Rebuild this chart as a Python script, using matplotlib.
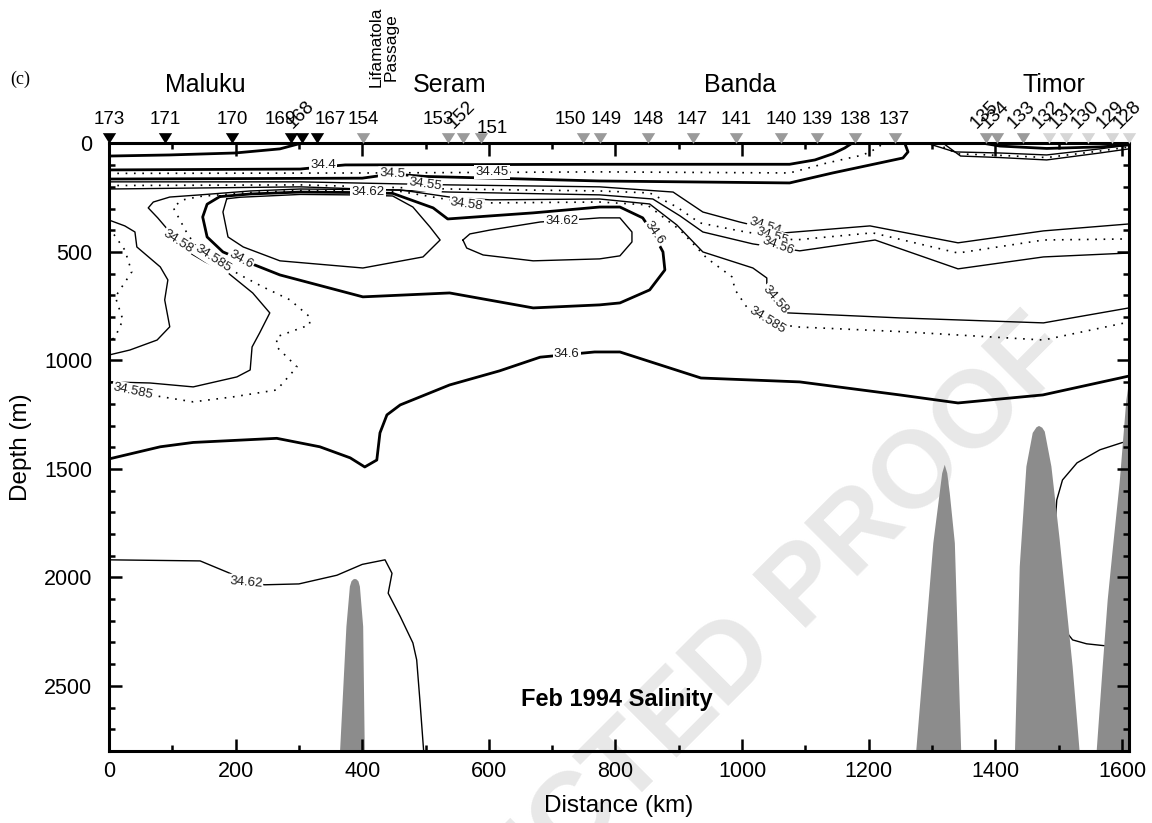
import matplotlib
matplotlib.use("Agg")
import matplotlib.pyplot as plt
from matplotlib.ticker import MultipleLocator
from matplotlib.transforms import blended_transform_factory

plt.rcParams["font.family"] = ["Liberation Sans", "DejaVu Sans"]

# ---------------- stations along the section ----------------
station_ids = ["173", "171", "170", "169", "168", "167", "154", "153", "152", "151",
               "150", "149", "148", "147", "141", "140", "139", "138", "137",
               "135", "134", "133", "132", "131", "130", "129", "128"]
station_km = [0, 89, 195, 288, 305, 328, 401, 535, 559, 587,
              748, 775, 852, 922, 991, 1062, 1119, 1179, 1241,
              1385, 1403, 1444, 1484, 1511, 1546, 1584, 1611]
station_group = ["a"] * 6 + ["b"] * 16 + ["c"] * 5
tilted_ids = ["168", "152", "135", "134", "133", "132", "131", "130", "129", "128"]

region_names = ["Maluku", "Seram", "Banda", "Timor"]
region_km = [152, 538, 996, 1492]

# ---------------- isohalines (distance km, depth m) ----------------
iso_343_km = [0, 96, 199, 270, 302]
iso_343_m = [58, 53, 44, 25, 0]

iso_344_km = [0, 144, 302, 338, 373, 775, 1075, 1115, 1143, 1162, 1173]
iso_344_m = [122, 120, 118, 108, 99, 96, 96, 76, 48, 21, 0]

iso_3445_km = [0, 417, 775, 1075, 1134, 1191, 1214, 1222]
iso_3445_m = [138, 136, 131, 136, 90, 53, 21, 0]

iso_345_km = [0, 400, 447, 500, 775, 1075, 1143, 1217, 1254, 1262, 1257]
iso_345_m = [164, 160, 141, 152, 173, 182, 136, 90, 67, 39, 0]

iso_3454_km = [0, 302, 538, 775, 891, 938, 996, 1067, 1202, 1341, 1476, 1611]
iso_3454_m = [177, 177, 191, 200, 224, 316, 362, 412, 380, 458, 403, 371]

iso_3455_km = [0, 302, 538, 775, 854, 897, 933, 996, 1083, 1206, 1341, 1476, 1611]
iso_3455_m = [194, 191, 210, 219, 228, 293, 366, 403, 445, 412, 505, 445, 440]

iso_3456_km = [0, 302, 538, 775, 859, 902, 938, 1017, 1091, 1210, 1341, 1476, 1611]
iso_3456_m = [210, 200, 224, 237, 256, 334, 408, 463, 495, 445, 578, 523, 505]

iso_3458_km = [0, 65, 133, 202, 223, 226, 238, 254, 227, 186, 152, 120, 96, 77, 62,
               70, 96, 144, 223, 302, 460, 538, 602, 775, 854, 897, 938, 1017, 1039,
               1039, 1052, 1072, 1249, 1476, 1611]
iso_3458_m = [1099, 1104, 1122, 1076, 1044, 938, 873, 781, 689, 592, 546, 491, 408, 343, 297,
              270, 247, 237, 219, 210, 214, 247, 260, 256, 279, 376, 500, 574, 620,
              661, 721, 781, 804, 827, 758]

iso_34585_km = [0, 65, 133, 196, 265, 297, 265, 265, 317, 317, 286, 243, 207, 164, 136,
                123, 101, 117, 144, 223, 302, 460, 538, 602, 775, 850, 902, 944, 984,
                989, 1007, 1039, 1082, 1249, 1476, 1611]
iso_34585_m = [1140, 1159, 1191, 1168, 1136, 1030, 938, 891, 836, 799, 721, 661, 606, 532, 468,
               412, 293, 260, 244, 226, 217, 221, 260, 274, 270, 283, 399, 528, 615,
               675, 753, 813, 845, 867, 906, 823]

iso_346_core_km = [175, 223, 302, 381, 448, 512, 535, 602, 670, 775, 807, 843, 859, 875,
                   878, 854, 807, 775, 670, 538, 401, 270, 238, 210, 180, 155, 148, 155, 175]
iso_346_core_m = [245, 233, 224, 226, 230, 297, 348, 334, 320, 293, 293, 343, 412, 500,
                  583, 675, 735, 744, 758, 689, 707, 606, 569, 537, 500, 431, 339, 280, 245]

iso_3462_west_km = [186, 207, 302, 381, 448, 480, 507, 523, 496, 401, 270, 212, 188, 180, 186]
iso_3462_west_m = [255, 248, 235, 237, 242, 293, 385, 445, 523, 574, 541, 477, 431, 316, 255]

iso_3462_east_km = [559, 570, 602, 681, 752, 775, 807, 826, 826, 807, 775, 670, 591, 565, 559]
iso_3462_east_m = [445, 417, 399, 362, 348, 343, 343, 408, 454, 518, 532, 541, 514, 482, 445]

iso_3457_wall_km = [0, 25, 41, 44, 81, 93, 88, 96, 76, 33, 0]
iso_3457_wall_m = [353, 380, 408, 477, 569, 629, 721, 845, 906, 952, 975]

iso_34575_wall_km = [0, 6, 25, 36, 10, 22, 10, 0]
iso_34575_wall_m = [389, 412, 491, 592, 707, 813, 891, 915]

iso_346_deep_km = [0, 81, 133, 265, 333, 381, 404, 423, 428, 439, 460, 538, 617, 681,
                   767, 807, 935, 1091, 1249, 1341, 1475, 1611]
iso_346_deep_m = [1454, 1398, 1378, 1359, 1398, 1449, 1491, 1459, 1334, 1251, 1205, 1113,
                  1048, 985, 961, 961, 1081, 1099, 1159, 1196, 1159, 1072]

iso_3462_deep_west_km = [0, 144, 191, 215, 246, 300, 360, 400, 436, 447, 441, 460, 480,
                         486, 491, 497]
iso_3462_deep_west_m = [1919, 1924, 1981, 2022, 2034, 2030, 1990, 1940, 1919, 1981, 2073,
                        2180, 2302, 2380, 2564, 2800]

iso_3462_deep_east_km = [1601, 1565, 1529, 1506, 1497, 1494, 1502, 1513, 1522, 1544, 1573]
iso_3462_deep_east_m = [1378, 1412, 1472, 1551, 1643, 1767, 1951, 2255, 2288, 2306, 2315]

timor_a_km = [1293, 1336, 1407, 1481, 1565, 1611]
timor_a_m = [0, 39, 44, 53, 25, 7]
timor_b_km = [1306, 1341, 1407, 1481, 1565, 1611]
timor_b_m = [0, 48, 55, 65, 35, 16]
timor_c_km = [1318, 1345, 1407, 1481, 1565, 1611]
timor_c_m = [0, 58, 65, 76, 44, 25]
timor_d_km = [1383, 1407, 1481, 1565, 1611]
timor_d_m = [0, 12, 23, 16, 7]

# ---------------- contour labels ----------------
label_text = ["34.4", "34.5", "34.45", "34.55", "34.62", "34.58", "34.62", "34.58",
              "34.585", "34.6", "34.6", "34.54", "34.55", "34.56", "34.58", "34.585",
              "34.6", "34.585", "34.62"]
label_km = [338, 447, 605, 499, 409, 565, 715, 109, 164, 208, 862, 1036, 1047, 1056,
            1052, 1039, 723, 38, 216]
label_m = [100, 141, 131, 190, 223, 279, 357, 454, 532, 537, 412, 380, 426, 472,
           721, 813, 970, 1140, 2022]
label_rot = [0, -3, 0, -8, 0, -8, 0, -33, -33, -29, -55, -18, -18, -20, -50, -32,
             0, -12, -5]

# ---------------- sea floor ridges ----------------
ridge_a_km = [365, 375, 380.5, 383, 386, 388.4, 391, 394, 396.3, 401.5, 404]
ridge_a_m = [2800, 2227, 2042, 2018, 2009, 2007, 2009, 2018, 2042, 2227, 2800]
ridge_b_km = [1275, 1302, 1312, 1316, 1320, 1324, 1328, 1336, 1346]
ridge_b_m = [2800, 1842, 1612, 1520, 1481, 1520, 1612, 1842, 2800]
ridge_c_km = [1431, 1438.5, 1449, 1459, 1465, 1469, 1474, 1478, 1488.5, 1501.6, 1522, 1533]
ridge_c_m = [2800, 1950, 1489, 1334, 1308, 1302, 1310, 1328, 1489, 1827, 2411, 2800]
ridge_d_km = [1560, 1569.5, 1577.4, 1585.3, 1596.3, 1606.9, 1611, 1611]
ridge_d_m = [2800, 2411, 2104, 1873, 1564, 1182, 1100, 2800]

line_styles = {
    "thick": dict(lw=2.0, ls="-"),
    "thin": dict(lw=1.0, ls="-"),
    "dot": dict(lw=1.2, ls=(0, (1, 4))),
}
contours = [
    (iso_343_km, iso_343_m, "thick"),
    (iso_344_km, iso_344_m, "thick"),
    (iso_3445_km, iso_3445_m, "dot"),
    (iso_345_km, iso_345_m, "thick"),
    (iso_3454_km, iso_3454_m, "thin"),
    (iso_3455_km, iso_3455_m, "dot"),
    (iso_3456_km, iso_3456_m, "thin"),
    (iso_3458_km, iso_3458_m, "thin"),
    (iso_34585_km, iso_34585_m, "dot"),
    (iso_346_core_km, iso_346_core_m, "thick"),
    (iso_3462_west_km, iso_3462_west_m, "thin"),
    (iso_3462_east_km, iso_3462_east_m, "thin"),
    (iso_3457_wall_km, iso_3457_wall_m, "thin"),
    (iso_34575_wall_km, iso_34575_wall_m, "dot"),
    (iso_346_deep_km, iso_346_deep_m, "thick"),
    (iso_3462_deep_west_km, iso_3462_deep_west_m, "thin"),
    (iso_3462_deep_east_km, iso_3462_deep_east_m, "thin"),
    (timor_a_km, timor_a_m, "thin"),
    (timor_b_km, timor_b_m, "dot"),
    (timor_c_km, timor_c_m, "thin"),
    (timor_d_km, timor_d_m, "thick"),
]
ridges = [(ridge_a_km, ridge_a_m), (ridge_b_km, ridge_b_m),
          (ridge_c_km, ridge_c_m), (ridge_d_km, ridge_d_m)]

# horizontal nudges (points) for crowded station numbers, and raise above the axis
label_nudge = {"169": -8, "167": 9.5, "153": -7, "151": 8.5, "150": -8.5, "149": 4.5}
label_raise = {"151": 7.5}

fig = plt.figure(figsize=(11.52, 8.23), dpi=100)
ax = fig.add_axes([0.0946, 0.0875, 0.8854, 0.7382])
ax.set_xlim(0, 1611)
ax.set_ylim(2800, 0)

for km, m, style in contours:
    ax.plot(km, m, color="black", solid_capstyle="round", zorder=1.0, **line_styles[style])

for km, m in ridges:
    ax.fill(km, m, color="#8c8c8c", lw=0, zorder=1.5)

for txt, km, m, rot in zip(label_text, label_km, label_m, label_rot):
    ax.text(km, m, txt, fontsize=9.5, color="#1a1a1a", rotation=rot,
            rotation_mode="anchor", ha="center", va="center", zorder=2.0,
            bbox=dict(boxstyle="square,pad=0.08", fc="white", ec="none"))

ax.text(0.498, 0.084, "Feb 1994 Salinity", transform=ax.transAxes, ha="center",
        va="center", fontsize=17, fontweight="bold", zorder=2.2)

# faint page overlay
ax.text(0.5755, 0.1106, "CORRECTED PROOF", transform=fig.transFigure, rotation=45,
        rotation_mode="anchor", ha="center", va="center", fontsize=79,
        fontweight="bold", color="#e8e8e8", zorder=0.5, clip_on=False)

# axes styling
ax.xaxis.set_major_locator(MultipleLocator(200))
ax.xaxis.set_minor_locator(MultipleLocator(100))
ax.yaxis.set_major_locator(MultipleLocator(500))
ax.yaxis.set_minor_locator(MultipleLocator(100))
ax.tick_params(which="both", direction="in", top=True, right=True, width=1.8,
               labelsize=15.5)
ax.tick_params(which="major", length=9)
ax.tick_params(which="minor", length=4.5)
ax.tick_params(axis="x", pad=7)
ax.tick_params(axis="y", pad=12)
for sp in ax.spines.values():
    sp.set_linewidth(2.2)
    sp.set_zorder(3)

ax.set_xlabel("Distance (km)", fontsize=17.5)
ax.xaxis.set_label_coords(0.5, -0.073)
ax.set_ylabel("Depth (m)", fontsize=17.5)
ax.yaxis.set_label_coords(-0.0755, 0.5)

# station markers and numbers
top = blended_transform_factory(ax.transData, ax.transAxes)
tri = [(-1, 0.8), (1, 0.8), (0, -0.8)]
shade = {"a": "#000000", "b": "#9a9a9a", "c": "#d6d6d6"}
for g, col in shade.items():
    xs = [k for k, gg in zip(station_km, station_group) if gg == g]
    ax.plot(xs, [1.0088] * len(xs), ls="none", marker=tri, ms=9.6, mew=0,
            color=col, transform=top, clip_on=False, zorder=4)

for sid, km in zip(station_ids, station_km):
    if sid in tilted_ids:
        ax.annotate(sid, (km, 1.0), xycoords=top, xytext=(-7, 10.5),
                    textcoords="offset points", rotation=45, rotation_mode="anchor",
                    ha="left", va="baseline", fontsize=13.5, annotation_clip=False)
    else:
        ax.annotate(sid, (km, 1.0), xycoords=top,
                    xytext=(label_nudge.get(sid, 0), label_raise.get(sid, 14)),
                    textcoords="offset points", ha="center", va="baseline",
                    fontsize=13.5, annotation_clip=False)

for name, km in zip(region_names, region_km):
    ax.text(km, 1.0853, name, transform=top, ha="center", va="baseline", fontsize=18)

ax.text(433, 1.1588, "Lifamatola\nPassage", transform=top, rotation=90, ha="center",
        va="center", multialignment="center", fontsize=12.5, linespacing=1.0)

fig.text(0.0175, 0.9030, "(c)", family="Liberation Serif", fontsize=13,
         ha="center", va="center")

fig.savefig("out.png", dpi=100)
